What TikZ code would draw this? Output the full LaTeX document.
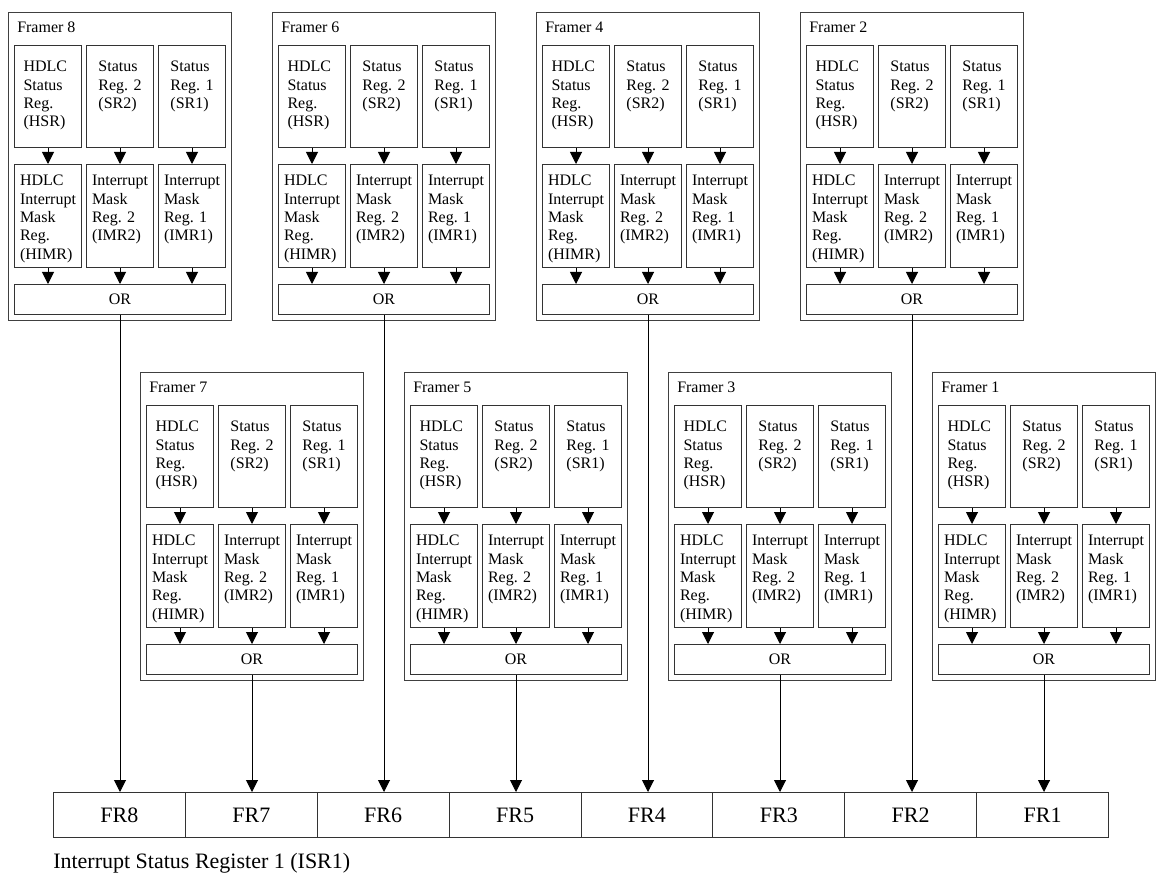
\documentclass[tikz,border=0pt]{standalone}
\usepackage{fontspec}
\setmainfont{Liberation Serif}
\usetikzlibrary{arrows.meta,positioning}

\begin{document}
\begin{tikzpicture}[x=0.75pt, y=-0.75pt,
    framer/.style={draw=black!75, line width=0.75pt, anchor=north west, inner sep=0pt,
                   minimum width=167.25pt, minimum height=231pt},
    regbox/.style={draw=black!80, line width=0.75pt, anchor=north west, inner sep=0pt,
                   minimum width=50.25pt, minimum height=76.5pt},
    maskbox/.style={regbox, minimum height=77.25pt},
    orbox/.style={draw=black!80, line width=0.75pt, anchor=north west, inner sep=0pt,
                  minimum width=158.25pt, minimum height=22.5pt,
                  font=\fontsize{12}{13.75}\selectfont},
    regtext/.style={anchor=north, align=left, inner sep=0pt,
                    font=\fontsize{12}{13.75}\selectfont},
    title/.style={anchor=north west, inner sep=0pt, font=\fontsize{12}{13.75}\selectfont},
    cell/.style={draw=black!80, line width=0.75pt, anchor=north west, inner sep=0pt,
                 minimum width=98.906pt, minimum height=33.75pt,
                 font=\fontsize{16.5}{19}\selectfont},
    arrow/.style={-{Triangle[length=9pt,width=9pt]}, line width=0.75pt, draw=black}
]
\useasboundingbox (0,0) rectangle (1160,877);

% the eight framers
\foreach \n/\ox/\oy in {8/8/12, 6/272/12, 4/536/12, 2/800/12,
                        7/140/372, 5/404/372, 3/668/372, 1/932/372} {
  \node[framer] (f\n) at (\ox,\oy) {};
  \node[title] (f\n-title) at (\ox+9,\oy+10) {Framer \n};
  \node[regbox] (f\n-hsr) at (\ox+6,\oy+33) {};
  \node[regbox] (f\n-sr2) at (\ox+78,\oy+33) {};
  \node[regbox] (f\n-sr1) at (\ox+150,\oy+33) {};
  \node[maskbox] (f\n-himr) at (\ox+6,\oy+152) {};
  \node[maskbox] (f\n-imr2) at (\ox+78,\oy+152) {};
  \node[maskbox] (f\n-imr1) at (\ox+150,\oy+152) {};
  \node[orbox] (f\n-or) at (\ox+6,\oy+272) {OR};
  \node[regtext, xshift=-2pt, below=12pt of f\n-hsr.north, anchor=north] (f\n-hsr-t)
    {HDLC\\Status\\Reg.\\(HSR)};
  \node[regtext, below=12pt of f\n-sr2.north, anchor=north] (f\n-sr2-t)
    {Status\\Reg. 2\\(SR2)};
  \node[regtext, below=12pt of f\n-sr1.north, anchor=north] (f\n-sr1-t)
    {Status\\Reg. 1\\(SR1)};
  \node[regtext, below=8.25pt of f\n-himr.north, anchor=north] (f\n-himr-t)
    {HDLC\\Interrupt\\Mask\\Reg.\\(HIMR)};
  \node[regtext, below=8.25pt of f\n-imr2.north, anchor=north] (f\n-imr2-t)
    {Interrupt\\Mask\\Reg. 2\\(IMR2)};
  \node[regtext, below=8.25pt of f\n-imr1.north, anchor=north] (f\n-imr1-t)
    {Interrupt\\Mask\\Reg. 1\\(IMR1)};
  \draw[arrow] (f\n-hsr) -- (f\n-himr);
  \draw[arrow] (f\n-sr2) -- (f\n-imr2);
  \draw[arrow] (f\n-sr1) -- (f\n-imr1);
  \draw[arrow] (f\n-himr.south) -- (f\n-himr.south |- f\n-or.north);
  \draw[arrow] (f\n-imr2.south) -- (f\n-or.north);
  \draw[arrow] (f\n-imr1.south) -- (f\n-imr1.south |- f\n-or.north);
}

% interrupt status register
\foreach \n [count=\i from 0] in {8,...,1}
  \node[cell] (fr\n) at (53+\i*131.875,792) {FR\n};
\node[title, font=\fontsize{16.5}{19}\selectfont] (isr1) at (53,853)
  {Interrupt Status Register 1 (ISR1)};

\foreach \n in {1,...,8}
  \draw[arrow] (f\n-or.south) -- (f\n-or.south |- fr\n.north);
\end{tikzpicture}
\end{document}
